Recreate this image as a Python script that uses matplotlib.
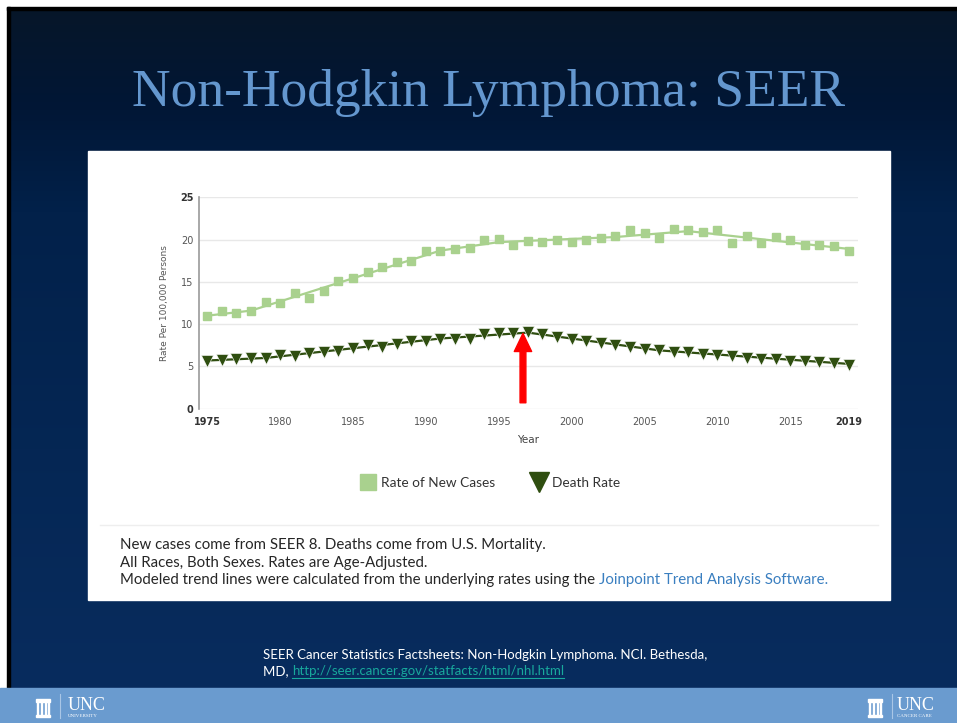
import numpy as np
import matplotlib
matplotlib.use("Agg")
import matplotlib.pyplot as plt
from matplotlib.lines import Line2D
from matplotlib.patches import Rectangle
from matplotlib.colors import LinearSegmentedColormap

# ---------------- data ----------------
years = list(range(1975, 2020))
new_cases = [11.0, 11.5, 11.3, 11.6, 12.6, 12.5, 13.7, 13.1, 13.9, 15.1,
             15.4, 16.2, 16.8, 17.4, 17.5, 18.6, 18.7, 18.9, 19.05, 19.9,
             20.1, 19.4, 19.8, 19.7, 19.95, 19.7, 19.9, 20.2, 20.4, 21.1,
             20.75, 20.2, 21.3, 21.1, 20.9, 21.1, 19.6, 20.4, 19.6, 20.3,
             19.9, 19.4, 19.4, 19.2, 18.7]
death_rate = [5.7, 5.8, 5.85, 5.95, 5.97, 6.3, 6.25, 6.6, 6.75, 6.85,
              7.15, 7.5, 7.35, 7.7, 7.95, 8.0, 8.25, 8.3, 8.3, 8.85,
              8.9, 8.9, 9.1, 8.8, 8.45, 8.25, 8.05, 7.8, 7.5, 7.3,
              7.1, 6.9, 6.75, 6.65, 6.5, 6.3, 6.25, 6.05, 5.9, 5.85,
              5.7, 5.6, 5.5, 5.4, 5.2]
# modeled (joinpoint) trend lines
new_trend_years = [1975, 1978, 1991, 1995, 2003, 2008, 2019]
new_trend_vals = [11.0, 11.6, 18.7, 19.7, 20.3, 21.0, 18.9]
death_trend_years = [1975, 1979, 1991, 1997, 2006, 2019]
death_trend_vals = [5.7, 6.0, 8.3, 9.0, 6.9, 5.3]
xtick_years = [1975, 1980, 1985, 1990, 1995, 2000, 2005, 2010, 2015, 2019]
ytick_vals = [0, 5, 10, 15, 20, 25]
arrow_year, arrow_from, arrow_to = 1996.66, 0.7, 8.9

W, H = 957, 723
fig = plt.figure(figsize=(W / 100, H / 100), dpi=100)
fig.patch.set_facecolor("white")

# ---------------- background (pixel coords) ----------------
bg = fig.add_axes([0, 0, 1, 1])
bg.set_xlim(0, W)
bg.set_ylim(H, 0)
bg.axis("off")

grad = np.linspace(0, 1, 256).reshape(-1, 1)
cmap = LinearSegmentedColormap.from_list(
    "slide", [(0, "#071629"), (0.15, "#011736"), (0.3, "#02214a"), (1.0, "#082c5e")])
bg.imshow(grad, cmap=cmap, extent=[7, W, 688, 7], aspect="auto", zorder=0)
# black border top / left
bg.add_patch(Rectangle((7, 7), W - 7, 3, color="black", zorder=1))
bg.add_patch(Rectangle((7, 7), 3, 681, color="black", zorder=1))
# bottom band
bg.add_patch(Rectangle((0, 688), W, 35, color="#6a9bcf", zorder=1))
# white panel
bg.add_patch(Rectangle((88, 151), 802, 449, color="white", zorder=1))
# separator line in panel
bg.plot([100, 878], [525, 525], color="#eeeeee", lw=1, zorder=2)

# title
bg.text(489, 93, "Non-Hodgkin Lymphoma: SEER", fontsize=38.5, color="#6497cf",
        family="Liberation Serif", ha="center", va="center", zorder=3)

# notes
NFS = 10.8
note_font = dict(family="Lato", fontsize=NFS, color="#262626", va="center", ha="left", zorder=3)
bg.text(120, 545, "New cases come from SEER 8. Deaths come from U.S. Mortality.", **note_font)
bg.text(120, 563, "All Races, Both Sexes. Rates are Age-Adjusted.", **note_font)
t = bg.text(120, 580, "Modeled trend lines were calculated from the underlying rates using the ",
            **note_font)
fig.canvas.draw()
x_end = t.get_window_extent().x1
bg.text(x_end, 580, "Joinpoint Trend Analysis Software.", family="Lato", fontsize=NFS,
        color="#3a7fc0", va="center", ha="left", zorder=3)

# footer citation
FFS = 9.5
bg.text(263, 655, "SEER Cancer Statistics Factsheets: Non-Hodgkin Lymphoma. NCI. Bethesda,",
        family="Lato", fontsize=FFS, color="white", va="center", ha="left", zorder=3)
t2 = bg.text(263, 671, "MD, ", family="Lato", fontsize=FFS, color="white",
             va="center", ha="left", zorder=3)
fig.canvas.draw()
x2 = t2.get_window_extent().x1
t3 = bg.text(x2, 671, "http://seer.cancer.gov/statfacts/html/nhl.html", family="Lato",
             fontsize=FFS, color="#18a89c", va="center", ha="left", zorder=3)
fig.canvas.draw()
b3 = t3.get_window_extent()
bg.plot([b3.x0, b3.x1], [678, 678], color="#18a89c", lw=0.8, zorder=3)

# UNC logos
def logo(x_icon, x_text, sub):
    bg.add_patch(Rectangle((x_icon, 699), 14, 3, color="white", zorder=3))
    for dx in (1, 5, 9, 12):
        bg.add_patch(Rectangle((x_icon + dx, 702), 1.4, 13, color="white", zorder=3))
    bg.add_patch(Rectangle((x_icon, 715), 14, 2, color="white", zorder=3))
    bg.plot([x_icon + 24, x_icon + 24], [694, 718], color="#a9c6e6", lw=0.8, zorder=3)
    bg.text(x_text, 705, "UNC", family="Liberation Serif", fontsize=13, color="white",
            va="center", ha="left", zorder=3)
    bg.text(x_text, 716, sub, family="Liberation Serif", fontsize=3.6, color="white",
            va="center", ha="left", zorder=3)

logo(36, 68, "UNIVERSITY")
logo(868, 897, "CANCER CARE")

# ---------------- chart ----------------
ax_left, ax_right, ax_top, ax_bottom = 199, 858, 197.3, 408.7
ax = fig.add_axes([ax_left / W, 1 - ax_bottom / H, (ax_right - ax_left) / W,
                   (ax_bottom - ax_top) / H])
ax.set_facecolor("white")
ax.set_xlim(1974.43, 2019.65)
ax.set_ylim(0, 25)

light_green = "#a9d18e"
dark_green = "#2f4e10"

ax.plot(new_trend_years, new_trend_vals, color=light_green, lw=1.6, zorder=3)
ax.plot(death_trend_years, death_trend_vals, color=dark_green, lw=1.6, zorder=3)
ax.plot(years, new_cases, ls="none", marker="s", ms=6.3, color=light_green,
        mec=light_green, zorder=4)
ax.plot(years, death_rate, ls="none", marker="v", ms=9, color=dark_green,
        mec="white", mew=0.4, zorder=4)

ax.set_yticks(ytick_vals)
ax.set_xticks(xtick_years)
ax.set_xticklabels([str(y) for y in xtick_years])
ax.set_yticklabels([str(v) for v in ytick_vals])
for lab in ax.get_xticklabels():
    lab.set_fontsize(7)
    lab.set_color("#555555")
    if lab.get_text() in ("1975", "2019"):
        lab.set_fontweight("bold")
        lab.set_color("#333333")
for lab in ax.get_yticklabels():
    lab.set_fontsize(7)
    lab.set_color("#555555")
    if lab.get_text() in ("0", "25"):
        lab.set_fontweight("bold")
        lab.set_color("#333333")
ax.tick_params(axis="both", length=0)
ax.tick_params(axis="x", pad=6)
ax.tick_params(axis="y", pad=4)
ax.grid(axis="y", color="#e8e8e8", lw=1)
ax.set_axisbelow(True)
for s in ("top", "right", "bottom"):
    ax.spines[s].set_visible(False)
ax.spines["left"].set_color("#9a9a9a")
ax.spines["left"].set_linewidth(1.2)

ax.set_ylabel("Rate Per 100,000 Persons", fontsize=6.5, color="#555555", labelpad=8)
ax.set_xlabel("Year", fontsize=7.5, color="#444444", labelpad=6)

# red arrow
ax.annotate("", xy=(arrow_year, arrow_to), xytext=(arrow_year, arrow_from),
            arrowprops=dict(arrowstyle="simple,head_width=1.25,head_length=1.3,tail_width=0.42",
                            color="#ff0000", shrinkA=0, shrinkB=0, mutation_scale=10),
            zorder=6)

# legend
handles = [Line2D([], [], ls="none", marker="s", ms=11, color=light_green, label="Rate of New Cases"),
           Line2D([], [], ls="none", marker="v", ms=14, color=dark_green, label="Death Rate")]
fig.legend(handles=handles, loc="center", bbox_to_anchor=(490 / W, 1 - 483 / H),
           ncol=2, frameon=False, prop=dict(family="Lato", size=9.8),
           handletextpad=0.4, columnspacing=2.6, handlelength=1.2,
           labelcolor="#333333")

fig.savefig("out.png", dpi=100, facecolor="white")
